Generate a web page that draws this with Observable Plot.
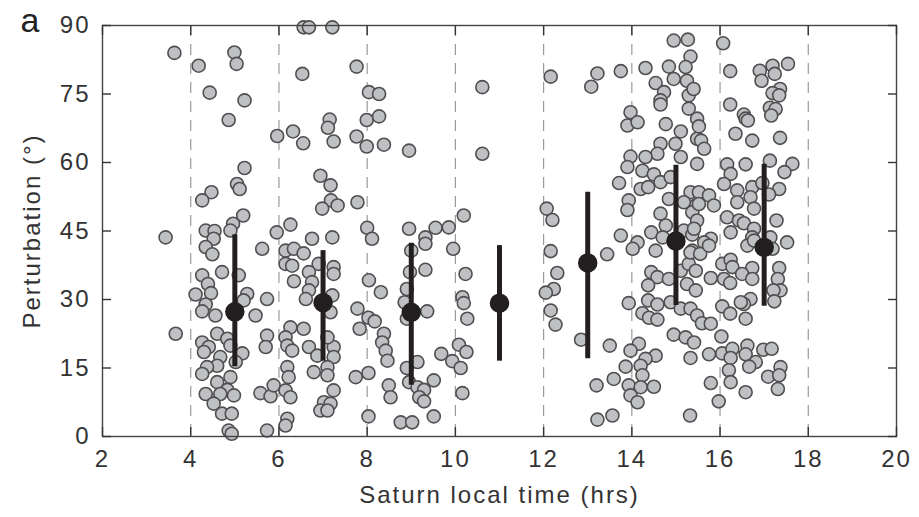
<!DOCTYPE html>
<html>
<head>
<meta charset="utf-8">
<script src="https://cdn.jsdelivr.net/npm/d3@7"></script>
<script src="https://cdn.jsdelivr.net/npm/@observablehq/plot@0.6"></script>
<style>
  html, body { margin: 0; padding: 0; background: #fff; }
</style>
</head>
<body>
<div id="chart"></div>
<script>
// Individual events: Saturn local time (hrs) and perturbation (deg)
const sltHours = [
  3.63,4.99,4.18,5.04,4.43,5.22,4.86,5.96,5.22,5.05,5.11,4.47,4.26,5.19,4.96,4.90,4.34,4.54,4.52,3.43,5.95,
  4.34,4.49,5.62,4.71,4.26,5.09,4.39,4.11,4.46,5.28,5.20,4.34,5.73,4.26,4.56,5.47,3.66,4.60,4.26,4.83,4.41,4.90,
  4.30,4.67,5.17,5.02,5.73,5.70,4.60,4.37,4.26,4.90,4.60,4.83,4.34,4.67,4.98,5.58,5.81,5.88,4.52,4.71,4.93,4.86,4.93,5.73,
  6.56,6.68,7.21,6.53,7.76,8.04,8.27,7.15,7.11,7.99,8.27,6.32,6.55,7.24,7.76,7.99,8.38,8.95,6.94,7.17,7.18,7.33,6.98,7.78,
  6.26,8.00,8.95,6.75,7.21,8.11,
  6.15,6.34,6.56,6.15,6.30,6.90,7.24,7.24,6.68,6.34,6.75,6.68,6.61,7.21,7.17,8.04,8.31,7.78,8.03,8.17,7.83,6.26,6.56,
  6.15,6.19,6.30,6.68,6.87,7.24,7.24,7.10,8.38,8.34,8.42,8.46,6.19,6.22,6.79,7.10,7.10,7.74,8.03,6.15,6.26,7.24,7.02,
  7.17,6.94,7.10,8.49,8.53,6.19,6.15,8.03,8.76,9.02,9.00,8.97,8.90,8.85,8.90,8.90,8.95,
  10.61,10.61,12.16,9.32,9.55,9.85,10.19,12.07,12.20,9.32,9.95,9.32,10.23,10.16,10.19,10.27,9.36,10.08,10.25,9.68,9.93,
  10.12,9.14,9.51,9.14,9.29,9.18,9.29,10.16,9.51,12.16,12.31,12.23,12.05,12.16,12.27,
  14.95,15.27,15.33,13.22,13.08,13.75,14.31,14.84,15.22,14.95,15.25,14.54,14.73,14.65,14.65,15.29,15.40,15.29,13.97,13.90,
  14.13,14.77,15.11,15.48,15.48,14.65,14.99,14.58,13.97,14.31,15.11,15.48,13.90,14.24,14.50,13.71,14.65,14.88,14.20,14.37,
  13.93,13.90,14.84,15.33,15.45,15.18,14.65,14.77,15.37,15.48,14.44,13.75,15.18,
  14.13,14.02,14.70,13.44,14.54,15.37,15.37,14.44,14.58,14.37,14.84,15.11,15.29,15.25,15.45,15.45,14.37,14.58,14.88,15.11,
  15.33,13.93,14.24,14.39,14.58,12.85,13.50,14.95,15.22,15.41,15.33,14.16,13.97,14.54,14.31,13.86,14.20,14.24,13.59,13.93,
  14.20,14.50,13.20,13.97,14.13,13.22,13.56,15.32,
  15.52,15.57,15.64,16.07,16.23,16.90,17.19,17.54,17.24,16.94,17.36,17.19,17.34,16.23,16.54,16.58,16.63,17.13,17.26,17.16,
  16.35,16.73,17.36,16.16,16.24,16.58,17.13,17.64,17.46,16.09,16.39,16.73,16.96,17.34,17.11,16.39,16.69,16.77,15.52,15.75,
  15.86,15.52,16.16,16.43,16.54,16.77,17.28,15.41,16.24,15.79,16.73,17.14,17.52,
  15.64,16.62,16.77,17.19,15.33,15.55,15.75,16.05,16.24,16.28,16.73,16.50,16.73,17.34,17.31,17.37,17.21,17.23,15.79,16.09,
  16.23,16.69,16.54,16.47,16.05,16.23,16.58,15.48,15.59,15.79,16.03,15.75,16.05,16.28,16.24,16.62,16.58,16.81,16.66,16.98,
  17.17,16.20,16.24,15.79,16.58,15.97,17.09,17.37,17.34,17.31
];
const perturbation = [
  84.0,84.1,81.2,81.6,75.3,73.6,69.3,65.8,58.8,55.3,54.2,53.5,51.7,48.4,46.6,45.1,45.1,45.0,43.3,43.6,44.7,
  41.5,39.9,41.1,36.0,35.3,35.3,33.4,31.1,31.4,31.2,29.8,28.9,30.1,27.4,26.5,26.5,22.5,22.5,20.6,21.4,19.6,19.9,
  18.5,17.4,18.2,16.3,22.1,19.6,15.5,15.2,13.7,13.0,11.9,10.2,9.3,9.3,9.0,9.5,8.8,11.2,7.2,5.0,5.0,1.3,0.6,1.3,
  89.6,89.6,89.6,79.4,81.0,75.4,75.0,69.4,67.6,69.3,70.1,66.8,64.2,64.6,65.7,63.5,63.9,62.6,57.1,55.0,51.7,50.6,49.9,51.3,
  46.4,45.7,45.5,43.3,43.6,43.3,
  40.7,41.1,40.1,37.8,37.4,37.8,37.1,35.6,36.0,34.0,33.8,32.0,30.1,30.9,27.2,34.2,31.6,28.0,26.0,25.2,23.6,23.9,23.6,
  21.7,19.9,18.8,19.6,17.7,19.6,17.4,21.7,22.5,20.6,18.8,16.6,15.2,13.0,14.1,15.2,13.4,13.0,13.9,10.1,8.6,10.1,7.5,
  7.2,5.7,5.7,11.2,8.6,3.9,2.4,4.4,3.1,3.1,40.7,36.0,32.3,29.4,25.8,15.0,11.9,
  76.5,61.9,78.8,43.6,45.7,45.8,48.4,49.9,47.4,42.2,41.1,36.5,35.6,30.5,29.2,25.8,27.4,20.1,18.5,18.1,16.5,
  15.0,16.3,12.3,10.8,10.2,8.6,7.7,9.5,4.4,40.6,35.8,32.3,31.5,27.6,24.5,
  86.7,86.9,83.2,79.5,76.6,80.0,80.7,81.0,80.9,78.3,77.9,77.4,75.4,73.6,72.7,74.7,76.1,71.8,71.0,68.1,
  68.8,68.4,66.8,69.6,65.2,64.1,64.1,61.9,61.3,61.2,61.2,59.7,59.0,58.2,57.4,55.5,55.7,56.8,54.2,54.6,
  51.7,49.6,52.0,53.5,50.6,51.3,48.8,46.2,49.1,47.3,44.7,44.0,45.1,
  42.5,41.1,43.6,39.9,40.7,44.2,40.7,36.0,34.9,33.1,34.5,36.3,37.8,33.4,36.3,32.0,29.8,28.9,29.4,28.0,
  28.0,29.2,27.0,26.0,25.6,21.2,19.9,22.3,21.7,20.6,17.2,20.3,18.8,17.7,17.0,15.3,15.5,13.4,12.6,11.2,
  10.8,10.9,11.2,9.0,7.5,3.7,4.6,4.6,
  67.9,64.8,63.0,86.1,80.0,80.1,81.2,81.6,79.4,77.9,76.1,75.2,74.7,72.7,70.5,69.6,69.2,72.0,71.7,70.3,
  66.3,64.8,65.4,59.6,57.5,59.6,60.4,59.7,57.9,55.3,53.9,54.6,55.5,54.2,53.0,51.3,52.4,49.9,53.5,52.8,
  50.6,50.9,48.0,47.3,46.7,45.5,47.3,45.5,44.7,43.3,43.6,43.6,42.5,
  42.5,41.8,42.9,41.1,40.3,40.0,41.8,37.8,38.7,37.1,36.9,35.6,34.5,36.9,34.5,32.0,32.0,29.6,34.7,34.5,
  33.6,30.1,29.0,29.4,28.5,26.9,25.8,26.5,24.8,24.7,21.9,18.0,18.2,19.2,17.2,19.9,18.0,16.3,15.3,19.0,
  19.2,14.5,11.9,11.7,9.7,7.7,13.1,15.2,13.4,10.4
];

// Binned means with spread bars
const binCentres = [5, 7, 9, 11, 13, 15, 17];
const binMeans   = [27.3, 29.3, 27.2, 29.2, 38.0, 42.8, 41.4];
const binLow     = [15.3, 16.5, 11.2, 16.5, 17.0, 28.7, 28.5];
const binHigh    = [44.2, 40.7, 42.3, 41.8, 53.5, 59.4, 59.6];

// Axis ticks and dashed guides
const xTicks = [2, 4, 6, 8, 10, 12, 14, 16, 18, 20];
const yTicks = [0, 15, 30, 45, 60, 75, 90];
const guideLines = [4, 6, 8, 10, 12, 14, 16, 18];

const points = sltHours.map((x, i) => ({x, y: perturbation[i]}));
const bins = binCentres.map((x, i) => ({x, mean: binMeans[i], lo: binLow[i], hi: binHigh[i]}));

const ink = "#231f20";
const chart = Plot.plot({
  width: 919,
  height: 517,
  marginLeft: 102,
  marginRight: 23,
  marginTop: 25,
  marginBottom: 81,
  style: {
    fontFamily: "'Liberation Sans', Arial, Helvetica, sans-serif",
    fontSize: "24px",
    letterSpacing: "2px",
    color: "#333",
    background: "#fff"
  },
  x: {domain: [2, 20]},
  y: {domain: [0, 90]},
  marks: [
    Plot.ruleX(guideLines, {stroke: "#9a9a9a", strokeWidth: 1.2, strokeDasharray: "11,8"}),
    Plot.dot(points, {x: "x", y: "y", r: 6.5, fill: "#bfc0c4", stroke: "#4f4f4f", strokeWidth: 1.6}),
    Plot.ruleX(bins, {x: "x", y1: "lo", y2: "hi", stroke: ink, strokeWidth: 5}),
    Plot.dot(bins, {x: "x", y: "mean", r: 9, fill: ink, stroke: ink}),
    Plot.frame({stroke: "#444", strokeWidth: 1.4}),
    Plot.axisX({anchor: "bottom", ticks: xTicks, tickSize: -9, tickPadding: 22, strokeWidth: 1.4,
      label: "Saturn local time (hrs)", labelAnchor: "center", labelOffset: 66, labelArrow: "none"}),
    Plot.axisX({anchor: "top", ticks: xTicks, tickSize: -9, tickFormat: () => "", strokeWidth: 1.4, label: null}),
    Plot.axisY({anchor: "left", ticks: yTicks, tickSize: -9, tickPadding: 21, strokeWidth: 1.4,
      label: "Perturbation (°)", labelAnchor: "center", labelOffset: 80, labelArrow: "none"}),
    Plot.axisY({anchor: "right", ticks: yTicks, tickSize: -9, tickFormat: () => "", strokeWidth: 1.4, label: null}),
    Plot.text(["a"], {frameAnchor: "top-left", text: d => d, dx: -82, dy: 6, textAnchor: "start",
      lineAnchor: "bottom", fontSize: 34, fill: "#222"})
  ]
});
document.getElementById("chart").appendChild(chart);
</script>
</body>
</html>
